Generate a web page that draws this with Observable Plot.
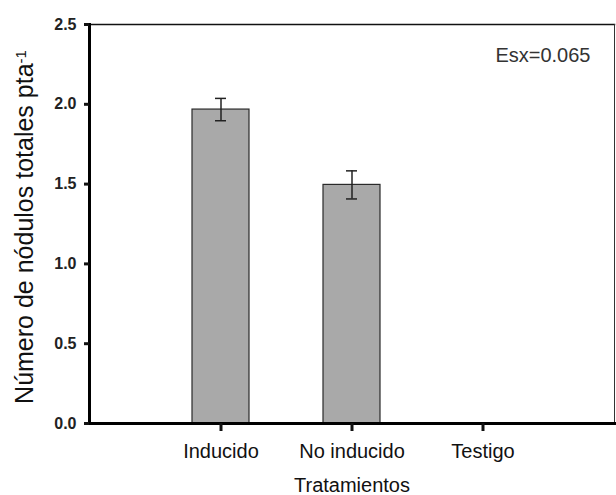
<!DOCTYPE html>
<html>
<head>
<meta charset="utf-8">
<script src="https://cdn.jsdelivr.net/npm/d3@7"></script>
<script src="https://cdn.jsdelivr.net/npm/@observablehq/plot@0.6"></script>
<style>
  html, body { margin: 0; padding: 0; background: #fff; }
</style>
</head>
<body>
<div id="chart"></div>
<script>
const categorias = ["Inducido", "No inducido", "Testigo"];
const medias = [1.967, 1.495, 0];
const errores = [0.07, 0.088, 0];
const yTicks = [0, 0.5, 1.0, 1.5, 2.0, 2.5];
const tituloY = "Número de nódulos totales pta";
const superindiceY = "-1";
const tituloX = "Tratamientos";
const nota = "Esx=0.065";

const datos = categorias.map((c, i) => ({cat: c, media: medias[i], err: errores[i]}));
const conError = datos.filter(d => d.err > 0);

const chart = Plot.plot({
  width: 616,
  height: 495,
  marginLeft: 89,
  marginRight: 2,
  marginTop: 24,
  marginBottom: 72,
  style: {fontFamily: "'Liberation Sans', Arial, sans-serif", background: "#fff", color: "#111"},
  x: {domain: categorias, paddingInner: 0.566, paddingOuter: 0.783, label: null},
  y: {domain: [0, 2.5], label: null},
  marks: [
    Plot.barY(datos.filter(d => d.media > 0), {x: "cat", y: "media", fill: "#a9a9a9", stroke: "#2a2a2a", strokeWidth: 1.2}),
    Plot.ruleX(conError, {x: "cat", y1: d => d.media - d.err, y2: d => d.media + d.err, stroke: "#222", strokeWidth: 1.5}),
    Plot.tickY(conError, {x: "cat", y: d => d.media + d.err, stroke: "#222", strokeWidth: 1.5, insetLeft: 23, insetRight: 23}),
    Plot.tickY(conError, {x: "cat", y: d => d.media - d.err, stroke: "#222", strokeWidth: 1.5, insetLeft: 23, insetRight: 23}),
    Plot.frame({anchor: "top", stroke: "#111", strokeWidth: 1.5}),
    Plot.frame({anchor: "right", stroke: "#333", strokeWidth: 1}),
    Plot.frame({anchor: "left", stroke: "#000", strokeWidth: 3}),
    Plot.frame({anchor: "bottom", stroke: "#000", strokeWidth: 3}),
    Plot.axisY({ticks: yTicks, tickFormat: d3.format(".1f"), tickSize: 5, tickPadding: 8, strokeWidth: 3, fontSize: 16, fontWeight: "bold", fill: "#222", label: null}),
    Plot.axisX({tickSize: 8, tickPadding: 12, strokeWidth: 3, fontSize: 20, fill: "#111", label: null}),
    Plot.text([tituloX], {frameAnchor: "bottom", dy: 62, fontSize: 20, fill: "#111", lineAnchor: "middle"}),
    Plot.text([tituloY], {frameAnchor: "left", dx: -65, dy: 3, rotate: -90, textAnchor: "middle", fontSize: 25, fill: "#111", lineAnchor: "middle"}),
    Plot.text([nota], {frameAnchor: "top-right", dx: -24, dy: 31, textAnchor: "end", fontSize: 20, fill: "#333", lineAnchor: "middle"})
  ]
});

// superscript on the y title
d3.select(chart).selectAll("text").filter(function() { return this.textContent === tituloY; })
  .each(function() {
    d3.select(this).append("tspan").attr("dy", "-0.45em").attr("font-size", 15).text(superindiceY);
  });

document.getElementById("chart").appendChild(chart);
</script>
</body>
</html>
